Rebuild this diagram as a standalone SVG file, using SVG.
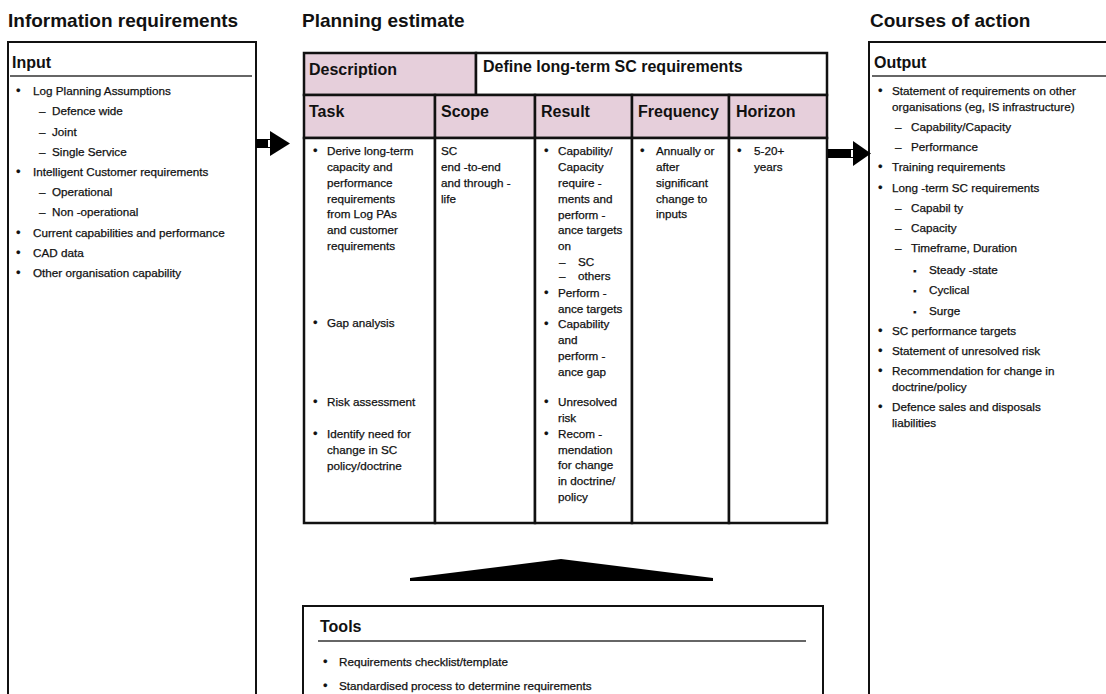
<svg xmlns="http://www.w3.org/2000/svg" width="1106" height="694" viewBox="0 0 1106 694">
<style>
text{font-family:"Liberation Sans",Arial,sans-serif;fill:#111}
.h1{font-size:19px;font-weight:bold}
.h2{font-size:16px;font-weight:bold}
.t{font-size:11.7px}
.t text{stroke:#111;stroke-width:0.25}
.b{font-size:13px}
.box{fill:#fff;stroke:#111;stroke-width:2}
.rule{stroke:#666;stroke-width:2}
.pink{fill:#e6cfdb;stroke:#111;stroke-width:2.5}
.cell{fill:#fff;stroke:#111;stroke-width:2.5}
.arrow{fill:#000}
</style>
<rect width="1106" height="694" fill="#fff"/>

<text class="h1" x="8" y="27">Information requirements</text>
<text class="h1" x="302" y="27">Planning estimate</text>
<text class="h1" x="870" y="27">Courses of action</text>

<g id="input">
<rect class="box" x="8" y="42" width="248" height="670"/>
<text class="h2" x="12" y="68">Input</text>
<line class="rule" x1="10" y1="76" x2="252" y2="76"/>
<g class="t">
<text class="b" x="16" y="95">•</text><text x="33" y="95">Log Planning Assumptions</text>
<text x="39" y="115">–</text><text x="52" y="115">Defence wide</text>
<text x="39" y="136">–</text><text x="52" y="136">Joint</text>
<text x="39" y="156">–</text><text x="52" y="156">Single Service</text>
<text class="b" x="16" y="176">•</text><text x="33" y="176">Intelligent Customer requirements</text>
<text x="39" y="196">–</text><text x="52" y="196">Operational</text>
<text x="39" y="216">–</text><text x="52" y="216">Non -operational</text>
<text class="b" x="16" y="237">•</text><text x="33" y="237">Current capabilities and performance</text>
<text class="b" x="16" y="257">•</text><text x="33" y="257">CAD data</text>
<text class="b" x="16" y="277">•</text><text x="33" y="277">Other organisation capability</text>
</g>
</g>

<g id="planning-table">
<rect class="pink" x="304" y="53" width="172" height="42"/>
<rect class="cell" x="476" y="53" width="351" height="42"/>
<text class="h2" x="309" y="75">Description</text>
<text class="h2" x="483" y="72">Define long-term SC requirements</text>
<rect class="pink" x="304" y="95" width="131" height="43"/>
<rect class="pink" x="435" y="95" width="100" height="43"/>
<rect class="pink" x="535" y="95" width="97" height="43"/>
<rect class="pink" x="632" y="95" width="97" height="43"/>
<rect class="pink" x="729" y="95" width="98" height="43"/>
<text class="h2" x="309" y="117">Task</text>
<text class="h2" x="441" y="117">Scope</text>
<text class="h2" x="541" y="117">Result</text>
<text class="h2" x="638" y="117">Frequency</text>
<text class="h2" x="736" y="117">Horizon</text>
<rect class="cell" x="304" y="138" width="131" height="385"/>
<rect class="cell" x="435" y="138" width="100" height="385"/>
<rect class="cell" x="535" y="138" width="97" height="385"/>
<rect class="cell" x="632" y="138" width="97" height="385"/>
<rect class="cell" x="729" y="138" width="98" height="385"/>
<g class="t">
<text class="b" x="313" y="155">•</text>
<text x="327" y="155">Derive long-term</text>
<text x="327" y="171">capacity and</text>
<text x="327" y="187">performance</text>
<text x="327" y="203">requirements</text>
<text x="327" y="218">from Log  PAs</text>
<text x="327" y="234">and customer</text>
<text x="327" y="250">requirements</text>
<text class="b" x="313" y="327">•</text><text x="327" y="327">Gap analysis</text>
<text class="b" x="313" y="406">•</text><text x="327" y="406">Risk assessment</text>
<text class="b" x="313" y="438">•</text><text x="327" y="438">Identify need for</text>
<text x="327" y="454">change in SC</text>
<text x="327" y="470">policy/doctrine</text>

<text x="441" y="155">SC</text>
<text x="441" y="171">end -to-end</text>
<text x="441" y="187">and through  -</text>
<text x="441" y="203">life</text>

<text class="b" x="544" y="155">•</text>
<text x="558" y="155">Capability/</text>
<text x="558" y="171">Capacity</text>
<text x="558" y="187">require -</text>
<text x="558" y="203">ments  and</text>
<text x="558" y="219">perform -</text>
<text x="558" y="234">ance  targets</text>
<text x="558" y="250">on</text>
<text x="559" y="266">–</text><text x="578" y="266">SC</text>
<text x="559" y="280">–</text><text x="578" y="280">others</text>
<text class="b" x="544" y="297">•</text>
<text x="558" y="297">Perform -</text>
<text x="558" y="313">ance  targets</text>
<text class="b" x="544" y="328">•</text>
<text x="558" y="328">Capability</text>
<text x="558" y="344">and</text>
<text x="558" y="360">perform -</text>
<text x="558" y="376">ance  gap</text>
<text class="b" x="544" y="406">•</text>
<text x="558" y="406">Unresolved</text>
<text x="558" y="422">risk</text>
<text class="b" x="544" y="438">•</text>
<text x="558" y="438">Recom -</text>
<text x="558" y="454">mendation</text>
<text x="558" y="469">for change</text>
<text x="558" y="485">in doctrine/</text>
<text x="558" y="501">policy</text>

<text class="b" x="640" y="155">•</text>
<text x="656" y="155">Annually or</text>
<text x="656" y="171">after</text>
<text x="656" y="187">significant</text>
<text x="656" y="203">change to</text>
<text x="656" y="218">inputs</text>

<text class="b" x="737" y="155">•</text>
<text x="754" y="155">5-20+</text>
<text x="754" y="171">years</text>
</g>
</g>

<g id="output">
<rect class="box" x="869" y="42" width="260" height="670"/>
<text class="h2" x="874" y="68">Output</text>
<line class="rule" x1="872" y1="76" x2="1106" y2="76"/>
<g class="t">
<text class="b" x="878" y="95">•</text><text x="892" y="95">Statement of requirements on other</text>
<text x="892" y="111">organisations (eg, IS infrastructure)</text>
<text x="895" y="131">–</text><text x="911" y="131">Capability/Capacity</text>
<text x="895" y="151">–</text><text x="911" y="151">Performance</text>
<text class="b" x="878" y="171">•</text><text x="892" y="171">Training requirements</text>
<text class="b" x="878" y="192">•</text><text x="892" y="192">Long -term SC requirements</text>
<text x="895" y="212">–</text><text x="911" y="212">Capabil ty</text>
<text x="895" y="232">–</text><text x="911" y="232">Capacity</text>
<text x="895" y="252">–</text><text x="911" y="252">Timeframe, Duration</text>
<text x="913" y="274" font-size="9">▪</text><text x="929" y="274">Steady -state</text>
<text x="913" y="294" font-size="9">▪</text><text x="929" y="294">Cyclical</text>
<text x="913" y="315" font-size="9">▪</text><text x="929" y="315">Surge</text>
<text class="b" x="878" y="335">•</text><text x="892" y="335">SC performance targets</text>
<text class="b" x="878" y="355">•</text><text x="892" y="355">Statement of unresolved risk</text>
<text class="b" x="878" y="375">•</text><text x="892" y="375">Recommendation for change in</text>
<text x="892" y="391">doctrine/policy</text>
<text class="b" x="878" y="411">•</text><text x="892" y="411">Defence sales and disposals</text>
<text x="892" y="427">liabilities</text>
</g>
</g>

<g id="tools">
<rect class="box" x="303" y="606" width="520" height="110"/>
<text class="h2" x="320" y="632">Tools</text>
<line class="rule" x1="318" y1="641" x2="806" y2="641"/>
<g class="t">
<text class="b" x="323" y="666">•</text><text x="339" y="666">Requirements checklist/template</text>
<text class="b" x="323" y="690">•</text><text x="339" y="690">Standardised process to determine requirements</text>
</g>
</g>

<g id="connectors">
<g id="arrow-in">
<rect class="arrow" x="256" y="139" width="11" height="9"/>
<rect x="267.5" y="139.5" width="3" height="8" fill="#fff" stroke="#000" stroke-width="1"/>
<polygon class="arrow" points="270,131 290,143.5 270,156"/>
</g>
<g id="arrow-out">
<rect class="arrow" x="828" y="149" width="22" height="9"/>
<rect x="850.5" y="149.5" width="3" height="8" fill="#fff" stroke="#000" stroke-width="1"/>
<polygon class="arrow" points="853,141 871,153.5 853,166"/>
</g>
<polygon id="arrow-tools" class="arrow" points="410,578 561,559 713,578 713,581 410,581"/>
</g>
</svg>
